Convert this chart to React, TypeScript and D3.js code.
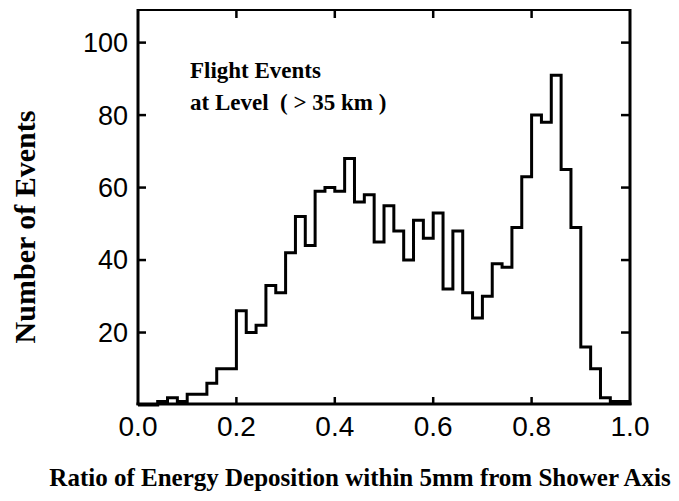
import { useRef, useEffect } from "react"
import * as d3 from "d3"

// bin lower edges (width 0.02) and counts
const binStarts = d3.range(0, 50).map((i) => +(i * 0.02).toFixed(2))
const counts = [
  0, 0, 1, 2, 1, 3, 3, 6, 10, 10,
  26, 20, 22, 33, 31, 42, 52, 44, 59, 60,
  59, 68, 56, 58, 45, 55, 48, 40, 51, 46,
  53, 32, 48, 31, 24, 30, 39, 38, 49, 63,
  80, 78, 91, 65, 49, 16, 10, 2, 1, 1,
]
const xTicks = [0, 0.2, 0.4, 0.6, 0.8, 1.0]
const yTicks = [20, 40, 60, 80, 100]
const binWidth = 0.02

const W = 679
const H = 501

export default function App() {
  const svgRef = useRef<SVGSVGElement>(null)

  useEffect(() => {
    const root = d3.select(svgRef.current)
    root.selectAll("*").remove()

    const left = 138
    const right = 630
    const top = 10
    const bottom = 405

    const x = d3.scaleLinear().domain([0, 1]).range([left, right])
    const y = d3.scaleLinear().domain([0, 109]).range([bottom, top])

    root.append("rect").attr("width", W).attr("height", H).attr("fill", "white")

    // histogram outline
    const pts: [number, number][] = []
    binStarts.forEach((b, i) => {
      pts.push([b, counts[i]])
      pts.push([b + binWidth, counts[i]])
    })
    const line = d3
      .line<[number, number]>()
      .x((d) => x(d[0]))
      .y((d) => y(d[1]))
    root
      .append("path")
      .attr("d", line(pts))
      .attr("fill", "none")
      .attr("stroke", "#000")
      .attr("stroke-width", 3)
      .attr("stroke-linejoin", "miter")

    // frame
    const frame = root.append("g").attr("stroke", "#000").attr("fill", "none")
    frame.append("line").attr("x1", left).attr("x2", right).attr("y1", top).attr("y2", top).attr("stroke-width", 2)
    frame.append("line").attr("x1", left - 1.5).attr("x2", right + 1.5).attr("y1", bottom - 1).attr("y2", bottom - 1).attr("stroke-width", 3)
    frame.append("line").attr("x1", left).attr("x2", left).attr("y1", top - 1).attr("y2", bottom).attr("stroke-width", 3)
    frame.append("line").attr("x1", right).attr("x2", right).attr("y1", top - 1).attr("y2", bottom).attr("stroke-width", 3)

    // ticks, all pointing inward
    yTicks.forEach((t) => {
      frame.append("line").attr("x1", left).attr("x2", left + 8).attr("y1", y(t)).attr("y2", y(t)).attr("stroke-width", 2.5)
      frame.append("line").attr("x1", right).attr("x2", right - 9).attr("y1", y(t)).attr("y2", y(t)).attr("stroke-width", 2.5)
    })
    xTicks.slice(1, -1).forEach((t) => {
      frame.append("line").attr("x1", x(t)).attr("x2", x(t)).attr("y1", bottom).attr("y2", bottom - 8).attr("stroke-width", 2.5)
      frame.append("line").attr("x1", x(t)).attr("x2", x(t)).attr("y1", top).attr("y2", top + 8).attr("stroke-width", 2.5)
    })

    // tick labels
    root
      .selectAll(".ylab")
      .data(yTicks)
      .enter()
      .append("text")
      .attr("x", left - 10)
      .attr("y", (d) => y(d))
      .attr("dy", "0.35em")
      .attr("text-anchor", "end")
      .attr("font-family", "'Liberation Sans', Arial, sans-serif")
      .attr("font-size", 27)
      .text((d) => d)

    root
      .selectAll(".xlab")
      .data(xTicks)
      .enter()
      .append("text")
      .attr("x", (d) => x(d))
      .attr("y", 436)
      .attr("text-anchor", "middle")
      .attr("font-family", "'Liberation Sans', Arial, sans-serif")
      .attr("font-size", 28)
      .text((d) => d.toFixed(1))

    // axis titles
    root
      .append("text")
      .attr("transform", `translate(35, 227) rotate(-90)`)
      .attr("text-anchor", "middle")
      .attr("font-family", "'Liberation Serif', 'Times New Roman', serif")
      .attr("font-weight", "bold")
      .attr("font-size", 30)
      .text("Number of Events")

    root
      .append("text")
      .attr("x", 360)
      .attr("y", 486)
      .attr("text-anchor", "middle")
      .attr("font-family", "'Liberation Serif', 'Times New Roman', serif")
      .attr("font-weight", "bold")
      .attr("font-size", 25)
      .text("Ratio of Energy Deposition within 5mm from Shower Axis")

    // inset label
    const inset = root
      .append("text")
      .attr("font-family", "'Liberation Serif', 'Times New Roman', serif")
      .attr("font-weight", "bold")
      .attr("font-size", 23)
    inset.append("tspan").attr("x", 190).attr("y", 78).text("Flight Events")
    inset.append("tspan").attr("x", 190).attr("y", 110).attr("xml:space", "preserve").text("at Level  ( > 35 km )")
  }, [])

  return (
    <svg
      ref={svgRef}
      width={W}
      height={H}
      style={{ position: "absolute", left: 0, top: 0 }}
    />
  )
}
